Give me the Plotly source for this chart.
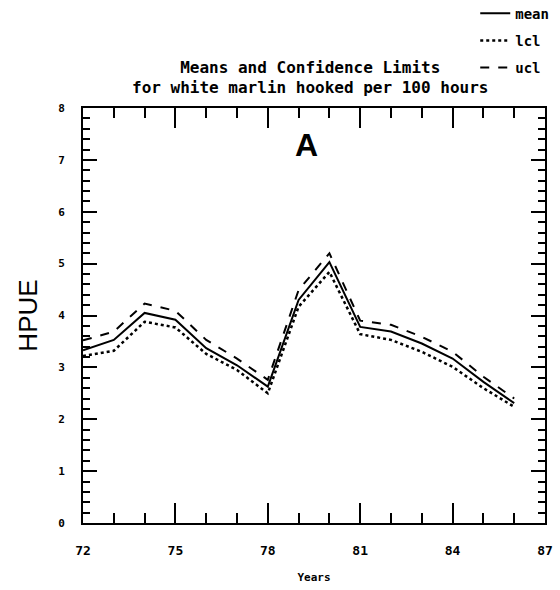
import plotly.graph_objects as go

years = [72, 73, 74, 75, 76, 77, 78, 79, 80, 81, 82, 83, 84, 85, 86]
mean = [3.33, 3.53, 4.05, 3.92, 3.37, 3.04, 2.63, 4.30, 5.03, 3.78, 3.69, 3.46, 3.17, 2.72, 2.31]
lcl = [3.22, 3.32, 3.88, 3.77, 3.26, 2.95, 2.50, 4.17, 4.84, 3.64, 3.53, 3.30, 3.01, 2.60, 2.24]
ucl = [3.52, 3.69, 4.23, 4.09, 3.53, 3.17, 2.76, 4.49, 5.20, 3.90, 3.82, 3.59, 3.30, 2.82, 2.40]

x_ticks = [72, 75, 78, 81, 84, 87]
x_labels = ["72", "75", "78", "81", "84", "87"]
y_ticks = [0, 1, 2, 3, 4, 5, 6, 7, 8]

FONT = "DejaVu Sans Mono"

fig = go.Figure()
fig.add_trace(go.Scatter(x=years, y=mean, mode="lines", name="mean", legendgroup="a",
                         line=dict(color="black", width=2, dash="solid")))
fig.add_trace(go.Scatter(x=years, y=lcl, mode="lines", name="lcl", legendgroup="b",
                         line=dict(color="black", width=2.5, dash="dot")))
fig.add_trace(go.Scatter(x=years, y=ucl, mode="lines", name="ucl", legendgroup="c",
                         line=dict(color="black", width=2, dash="dash")))

fig.add_annotation(x=79.27, y=7.28, text="<b>A</b>", showarrow=False,
                   font=dict(family="Liberation Sans", size=32, color="black"))

fig.update_layout(
    width=560, height=590,
    margin=dict(l=83, r=15, t=108, b=67, autoexpand=False),
    paper_bgcolor="white", plot_bgcolor="white",
    showlegend=True,
    legend=dict(x=0.849, y=1.266, xanchor="left", yanchor="top", xref="paper", yref="paper",
                font=dict(family=FONT, size=14, color="black", weight="bold"),
                itemwidth=30, tracegroupgap=6, traceorder="grouped",
                bgcolor="rgba(0,0,0,0)"),
    title=dict(text="Means and Confidence Limits<br>for white marlin hooked per 100 hours",
               x=0.554, xref="container", xanchor="center",
               y=0.877, yref="container", yanchor="top",
               font=dict(family=FONT, size=16, color="black", weight="bold")),
    font=dict(family=FONT, color="black"),
)

fig.update_xaxes(
    range=[72, 87], tickvals=x_ticks, ticktext=x_labels,
    ticks="inside", ticklen=20, tickwidth=2, tickcolor="black",
    minor=dict(dtick=1, ticks="inside", ticklen=10, tickwidth=2, tickcolor="black"),
    showline=True, linecolor="black", linewidth=2, mirror="allticks",
    showgrid=False, zeroline=False, automargin=False,
    tickfont=dict(family=FONT, size=13, color="black", weight="bold"),
    ticklabelstandoff=14,
    title=dict(text="Years", standoff=17,
               font=dict(family=FONT, size=11, color="black", weight="bold")),
)
fig.update_yaxes(
    range=[0, 8], tickvals=y_ticks,
    ticks="inside", ticklen=14, tickwidth=2, tickcolor="black",
    minor=dict(dtick=0.2, ticks="inside", ticklen=7, tickwidth=2, tickcolor="black"),
    showline=True, linecolor="black", linewidth=2, mirror="allticks",
    showgrid=False, zeroline=False, automargin=False,
    tickfont=dict(family=FONT, size=11, color="black", weight="bold"),
    ticklabelstandoff=14,
    title=dict(text="HPUE", standoff=13,
               font=dict(family="Liberation Sans", size=26, color="black")),
)

fig.write_html("out.html")
